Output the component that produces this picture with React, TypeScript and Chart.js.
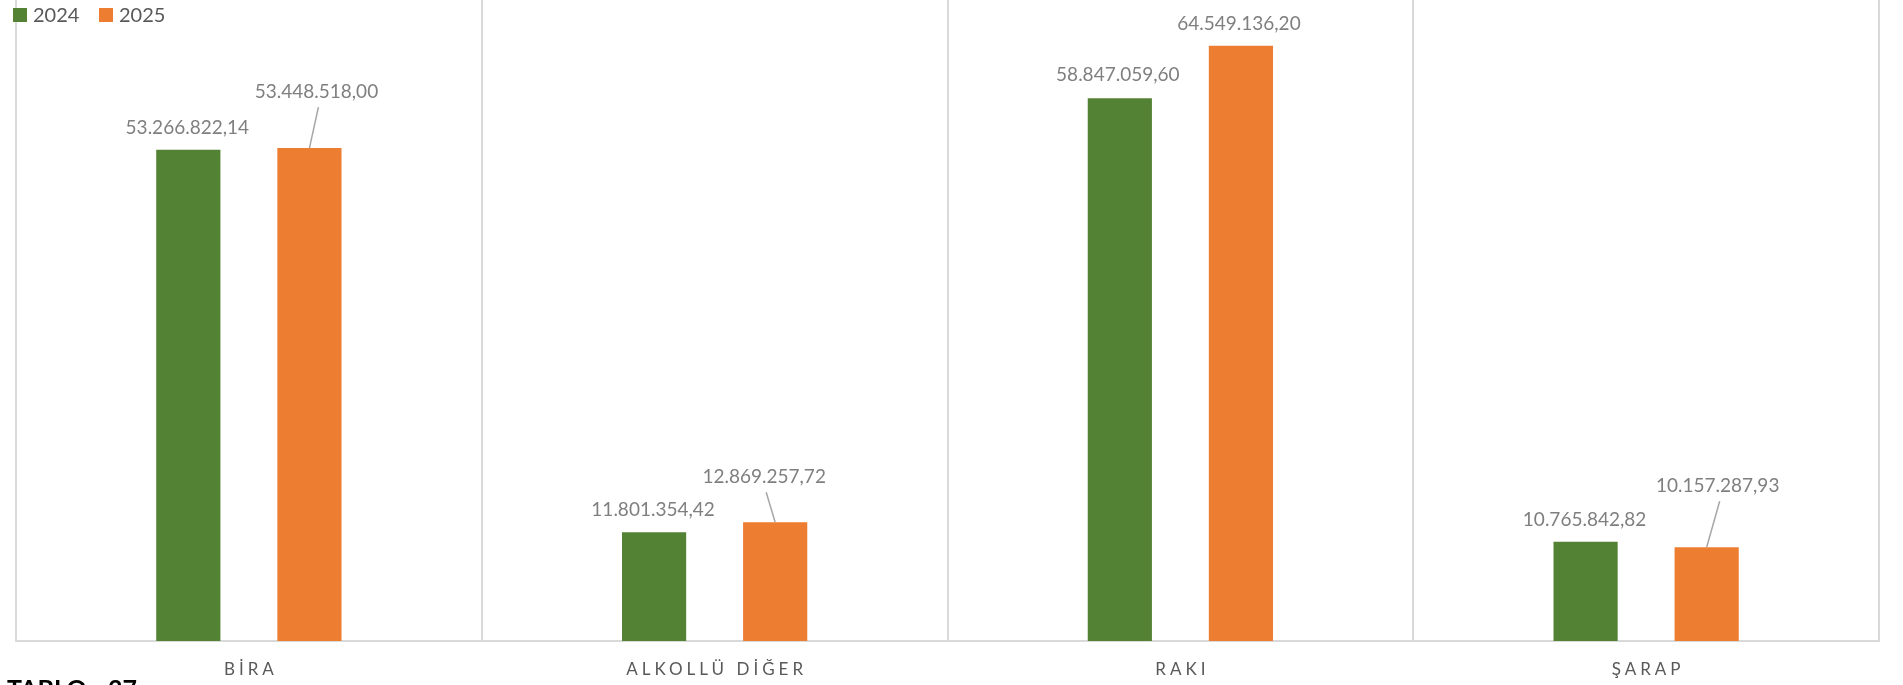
import React, { useEffect, useRef } from "react";
import { Chart, registerables } from "chart.js";

Chart.register(...registerables);

// ---- Data ----
const categories = ["BİRA", "ALKOLLÜ DİĞER", "RAKI", "ŞARAP"];
const seriesNames = ["2024", "2025"];
const values2024 = [53266822.14, 11801354.42, 58847059.6, 10765842.82];
const values2025 = [53448518.0, 12869257.72, 64549136.2, 10157287.93];

// ---- Style / layout config ----
const COLORS = ["#548235", "#ED7D31"];
// label offsets (dx, dy) relative to bar top centre
const LABEL_OFFSETS = [
  [[-1, -22], [-1, -22], [-2, -23], [-1, -22]],
  [[7, -56], [-11, -45], [-2, -22], [11, -61]],
];
const FONT = "Lato, 'Open Sans', sans-serif";

function fmt(v: number): string {
  const fixed = v.toFixed(2);
  const [i, d] = fixed.split(".");
  return i.replace(/\B(?=(\d{3})+(?!\d))/g, ".") + "," + d;
}

const overlayPlugin = {
  id: "overlay",
  afterDatasetsDraw(chart: any) {
    const ctx: CanvasRenderingContext2D = chart.ctx;
    ctx.save();

    // data labels + leader lines
    ctx.font = `19px ${FONT}`;
    ctx.textAlign = "center";
    ctx.textBaseline = "middle";
    chart.data.datasets.forEach((ds: any, di: number) => {
      const meta = chart.getDatasetMeta(di);
      meta.data.forEach((bar: any, i: number) => {
        const [dx, dy] = LABEL_OFFSETS[di][i];
        const lx = bar.x + dx;
        const ly = bar.y + dy;
        if (dy < -30) {
          ctx.strokeStyle = "#a6a6a6";
          ctx.lineWidth = 1.5;
          ctx.beginPath();
          ctx.moveTo(lx + 2, ly + 15);
          ctx.lineTo(bar.x, bar.y);
          ctx.stroke();
        }
        ctx.fillStyle = "#7f7f7f";
        ctx.fillText(fmt(ds.data[i]), lx, ly);
      });
    });

    // x category labels with letter spacing
    const xScale = chart.scales.x;
    const area = chart.chartArea;
    ctx.font = `17px ${FONT}`;
    ctx.fillStyle = "#595959";
    ctx.textAlign = "left";
    ctx.textBaseline = "middle";
    const spacing = 4;
    (ctx as any).letterSpacing = `${spacing}px`;
    chart.data.labels.forEach((lab: string, i: number) => {
      const cx = xScale.getPixelForValue(i);
      const w = ctx.measureText(lab).width - spacing;
      ctx.fillText(lab, cx - w / 2, area.bottom + 29);
    });
    (ctx as any).letterSpacing = "0px";

    // legend (overlaid at top-left)
    ctx.font = `20px ${FONT}`;
    ctx.textBaseline = "middle";
    let x = 13;
    chart.data.datasets.forEach((ds: any) => {
      ctx.fillStyle = ds.backgroundColor;
      ctx.fillRect(x, 8, 14, 14);
      ctx.fillStyle = "#595959";
      ctx.fillText(ds.label, x + 20, 16);
      x += 86;
    });

    // caption cut off at bottom
    ctx.font = `bold 25px ${FONT}`;
    ctx.fillStyle = "#000000";
    ctx.textBaseline = "alphabetic";
    ctx.fillText("TABLO - 37", 7, 698);

    ctx.restore();
  },
};

export default function App() {
  const canvasRef = useRef<HTMLCanvasElement | null>(null);

  useEffect(() => {
    if (!canvasRef.current) return;
    const chart = new Chart(canvasRef.current, {
      type: "bar",
      data: {
        labels: categories,
        datasets: [
          { label: seriesNames[0], data: values2024, backgroundColor: COLORS[0] },
          { label: seriesNames[1], data: values2025, backgroundColor: COLORS[1] },
        ],
      },
      options: {
        responsive: false,
        animation: false,
        devicePixelRatio: 1,
        layout: { padding: { left: 16, right: 24, top: 0, bottom: 44 } },
        datasets: {
          bar: { categoryPercentage: 0.52, barPercentage: 0.53 },
        },
        plugins: {
          legend: { display: false },
          tooltip: { enabled: false },
          title: { display: false },
        },
        scales: {
          x: {
            display: true,
            offset: true,
            grid: {
              display: true,
              offset: true,
              color: "#d9d9d9",
              lineWidth: 2,
              drawTicks: false,
            },
            border: { display: true, color: "#d9d9d9", width: 2 },
            ticks: { display: false },
          },
          y: {
            display: false,
            min: 0,
            max: 69500000,
          },
        },
      },
      plugins: [overlayPlugin],
    });
    return () => chart.destroy();
  }, []);

  return (
    <div style={{ position: "absolute", left: 0, top: 0, width: 1903, height: 685, background: "#ffffff" }}>
      <canvas ref={canvasRef} width={1903} height={685} style={{ display: "block" }} />
    </div>
  );
}
